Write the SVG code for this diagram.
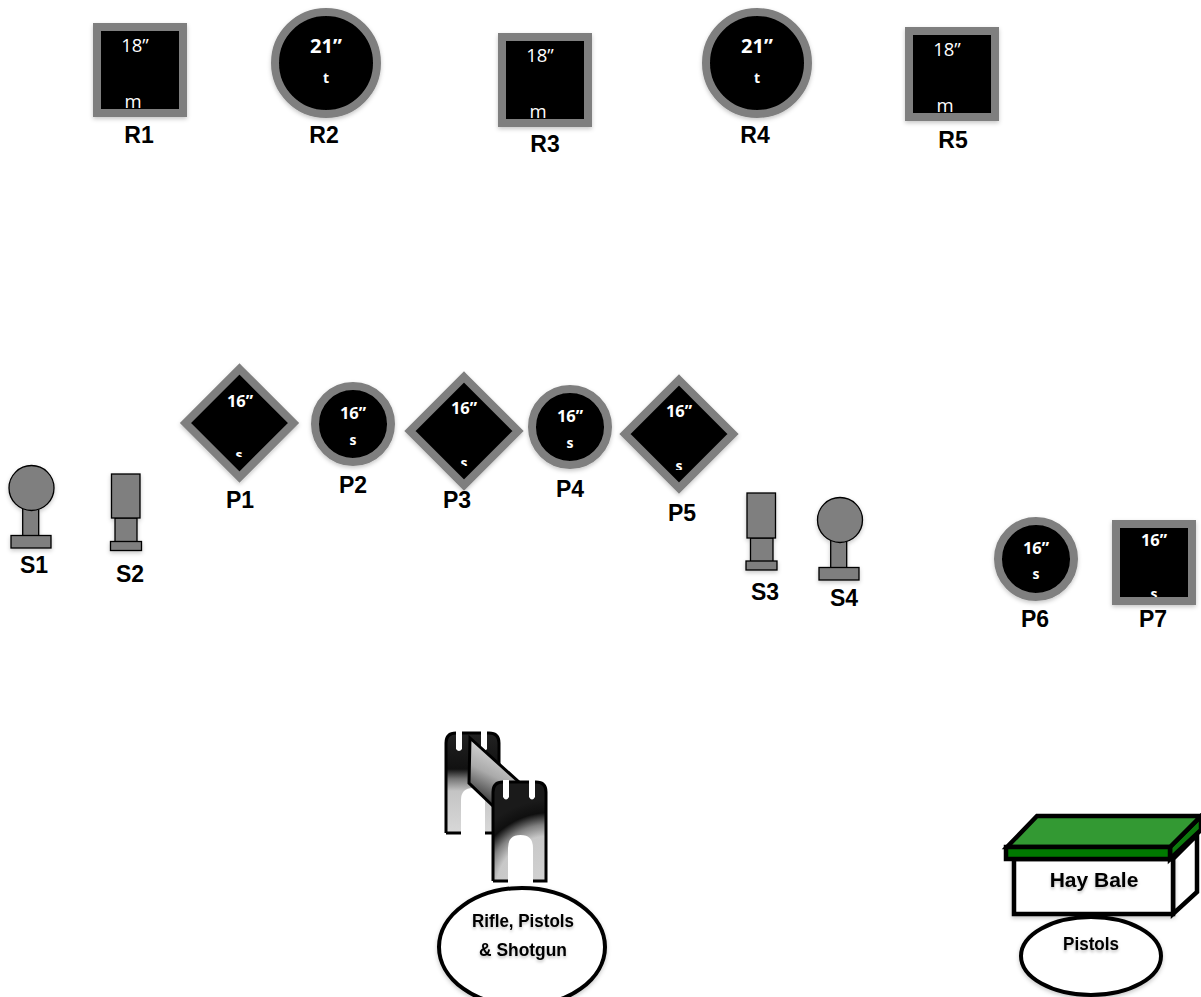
<svg xmlns="http://www.w3.org/2000/svg" width="1201" height="997" viewBox="0 0 1201 997">
<style>
.t{fill:#000;stroke:#7f7f7f;stroke-width:8}
.sp{fill:#7f7f7f;stroke:#000;stroke-width:1.3}
.lb{font-family:"Liberation Sans",Arial,sans-serif;font-weight:700;font-size:23px;fill:#000;text-anchor:middle}
.r{font-family:"Open Sans",sans-serif;font-size:18.500px;fill:#fff;text-anchor:middle}
.b{font-family:"Open Sans",sans-serif;font-weight:700;font-size:16.500px;fill:#fff;text-anchor:middle}
.bb{font-family:"Open Sans",sans-serif;font-weight:700;font-size:20px;fill:#fff;text-anchor:middle}
.sm{font-family:"Open Sans",sans-serif;font-weight:700;font-size:14px;fill:#fff;text-anchor:middle}
.k{font-family:"Liberation Sans",Arial,sans-serif;font-weight:700;fill:#000;text-anchor:middle}
.o{stroke:#000;stroke-width:4.500;stroke-linejoin:miter}
</style>
<defs>
<filter id="sh" x="-20%" y="-20%" width="140%" height="140%"><feDropShadow dx="0" dy="2" stdDeviation="2" flood-color="#000" flood-opacity="0.22"/></filter>
<filter id="ts" x="-10%" y="-30%" width="120%" height="170%"><feDropShadow dx="0" dy="2" stdDeviation="1.5" flood-color="#000" flood-opacity="0.25"/></filter>
<linearGradient id="tb" x1="0" y1="0" x2="0" y2="1"><stop offset="0" stop-color="#222"/><stop offset="0.36" stop-color="#111"/><stop offset="0.46" stop-color="#777"/><stop offset="0.58" stop-color="#c4c4c4"/><stop offset="1" stop-color="#d8d8d8"/></linearGradient>
<radialGradient id="tf" gradientUnits="userSpaceOnUse" cx="550" cy="890" r="90"><stop offset="0" stop-color="#d4d4d4"/><stop offset="0.6" stop-color="#c8c8c8"/><stop offset="0.73" stop-color="#808080"/><stop offset="0.86" stop-color="#0f0f0f"/><stop offset="1" stop-color="#1a1a1a"/></radialGradient>
<linearGradient id="tp" gradientUnits="userSpaceOnUse" x1="500" y1="755" x2="478" y2="798"><stop offset="0" stop-color="#d0d0d0"/><stop offset="0.45" stop-color="#aaa"/><stop offset="1" stop-color="#3a3a3a"/></linearGradient>
<clipPath id="c1"><rect x="200" y="440" width="80" height="17"/></clipPath>
<clipPath id="c3"><rect x="430" y="450" width="70" height="16"/></clipPath>
<clipPath id="c5"><rect x="645" y="450" width="70" height="20"/></clipPath>
<clipPath id="c7"><rect x="1120" y="580" width="70" height="17"/></clipPath>
</defs>

<g id="R1"><rect class="t" x="97" y="27" width="86" height="86" filter="url(#sh)"/><text class="r" x="135" y="52">18”</text><text class="r" x="133" y="108">m</text><text class="lb" x="139" y="143">R1</text></g>
<g id="R2"><circle class="t" cx="326" cy="63" r="51" filter="url(#sh)"/><text class="bb" x="326" y="53">21”</text><text class="sm" x="326" y="83">t</text><text class="lb" x="324" y="143">R2</text></g>
<g id="R3"><rect class="t" x="502" y="37" width="86" height="86" filter="url(#sh)"/><text class="r" x="540" y="62">18”</text><text class="r" x="538" y="118">m</text><text class="lb" x="545" y="152">R3</text></g>
<g id="R4"><circle class="t" cx="757" cy="63" r="51" filter="url(#sh)"/><text class="bb" x="757" y="53">21”</text><text class="sm" x="757" y="83">t</text><text class="lb" x="755" y="143">R4</text></g>
<g id="R5"><rect class="t" x="909" y="31" width="86" height="86" filter="url(#sh)"/><text class="r" x="947" y="56">18”</text><text class="r" x="945" y="112">m</text><text class="lb" x="953" y="148">R5</text></g>

<g id="P1"><polygon class="t" points="239.500,369 293.500,423 239.500,477 185.500,423" filter="url(#sh)"/><text class="b" x="240" y="407">16”</text><text class="sm" x="239" y="460" clip-path="url(#c1)">s</text><text class="lb" x="240" y="508">P1</text></g>
<g id="P2"><circle class="t" cx="353" cy="424" r="38" filter="url(#sh)"/><text class="b" x="353" y="419">16”</text><text class="sm" x="353" y="445">s</text><text class="lb" x="353" y="493">P2</text></g>
<g id="P3"><polygon class="t" points="464,377 518,431 464,485 410,431" filter="url(#sh)"/><text class="b" x="464" y="414">16”</text><text class="sm" x="464" y="468" clip-path="url(#c3)">s</text><text class="lb" x="457" y="508">P3</text></g>
<g id="P4"><circle class="t" cx="570" cy="427" r="38" filter="url(#sh)"/><text class="b" x="570" y="422">16”</text><text class="sm" x="570" y="448">s</text><text class="lb" x="570" y="497">P4</text></g>
<g id="P5"><polygon class="t" points="679,380 733,434 679,488 625,434" filter="url(#sh)"/><text class="b" x="679" y="417">16”</text><text class="sm" x="679" y="471" clip-path="url(#c5)">s</text><text class="lb" x="682" y="521">P5</text></g>
<g id="P6"><circle class="t" cx="1036" cy="559" r="38" filter="url(#sh)"/><text class="b" x="1036" y="554">16”</text><text class="sm" x="1036" y="579">s</text><text class="lb" x="1035" y="627">P6</text></g>
<g id="P7"><rect class="t" x="1116" y="524" width="76" height="77" filter="url(#sh)"/><text class="b" x="1154" y="546">16”</text><text class="sm" x="1154" y="599" clip-path="url(#c7)">s</text><text class="lb" x="1153" y="627">P7</text></g>

<g id="S1"><g filter="url(#sh)"><rect class="sp" x="22.700" y="508" width="16" height="28"/><rect class="sp" x="11" y="535.500" width="40" height="12.500"/><circle class="sp" cx="31.500" cy="488" r="22.500"/></g><text class="lb" x="34" y="573">S1</text></g>
<g id="S2"><g filter="url(#sh)"><rect class="sp" x="115" y="518" width="22" height="24"/><rect class="sp" x="110.500" y="541.500" width="31" height="9"/><rect class="sp" x="111.500" y="474" width="28.500" height="44"/></g><text class="lb" x="130" y="582">S2</text></g>
<g id="S3"><g filter="url(#sh)"><rect class="sp" x="750.500" y="538" width="22.500" height="24"/><rect class="sp" x="746" y="561" width="31" height="9"/><rect class="sp" x="747" y="493" width="28.500" height="45"/></g><text class="lb" x="765" y="600">S3</text></g>
<g id="S4"><g filter="url(#sh)"><rect class="sp" x="830.700" y="540" width="16" height="28"/><rect class="sp" x="819" y="567.500" width="40" height="12.500"/><circle class="sp" cx="840" cy="520" r="22.500"/></g><text class="lb" x="844" y="606">S4</text></g>

<g id="stand">
<path d="M446 833V743Q446 733 456 733H489Q499 733 499 743V833Z" fill="url(#tb)"/>
<path d="M446 833V743Q446 733 456 733H489Q499 733 499 743V800" fill="none" stroke="#000" stroke-width="3"/>
<path d="M446 833H461M485 833H499" fill="none" stroke="#000" stroke-width="3"/>
<path d="M461 835V800Q461 788 473 788Q485 788 485 800V835Z" fill="#fff"/>
<path d="M456 731H462V749Q459 753 456 749ZM481 731H487V749Q484 753 481 749Z" fill="#fff"/>
<polygon points="470,738 519,782 494,807 469,783" fill="url(#tp)" stroke="#000" stroke-width="3"/>
<path d="M493 882V792Q493 782 503 782H536Q546 782 546 792V882H533V848Q533 835 520.500 835Q508 835 508 848V882Z" fill="url(#tf)"/>
<path d="M493 881H508M533 881H546V792Q546 782 536 782H503Q493 782 493 792V881" fill="none" stroke="#000" stroke-width="3"/>
<path d="M503 780H509V797Q506 802 503 797ZM529 780H535V797Q532 802 529 797Z" fill="#fff"/>
<ellipse cx="522" cy="947" rx="83" ry="59" fill="#fff" stroke="#000" stroke-width="4" filter="url(#sh)"/>
<g filter="url(#ts)"><text class="k" x="523" y="927" font-size="18" textLength="102" lengthAdjust="spacingAndGlyphs">Rifle, Pistols</text><text class="k" x="523" y="956" font-size="18" textLength="88" lengthAdjust="spacingAndGlyphs">&amp; Shotgun</text></g>
</g>

<g id="haybale">
<polygon class="o" points="1173,859 1197,835 1197,892 1173,914" fill="#fff"/>
<rect class="o" x="1014" y="859" width="159" height="55" fill="#fff" filter="url(#sh)"/>
<polygon class="o" points="1170,847 1201,816 1201,830 1170,859" fill="#0d7a0d"/>
<polygon class="o" points="1007,847 1037,816 1201,816 1170,847" fill="#339933"/>
<rect class="o" x="1006" y="847" width="164" height="12" fill="#007a00"/>
<text class="k" x="1094" y="887" font-size="21" filter="url(#ts)">Hay Bale</text>
<ellipse cx="1091" cy="956" rx="70" ry="39" fill="#fff" stroke="#000" stroke-width="4" filter="url(#sh)"/>
<text class="k" x="1091" y="950" font-size="18" textLength="56" lengthAdjust="spacingAndGlyphs" filter="url(#ts)">Pistols</text>
</g>
</svg>
